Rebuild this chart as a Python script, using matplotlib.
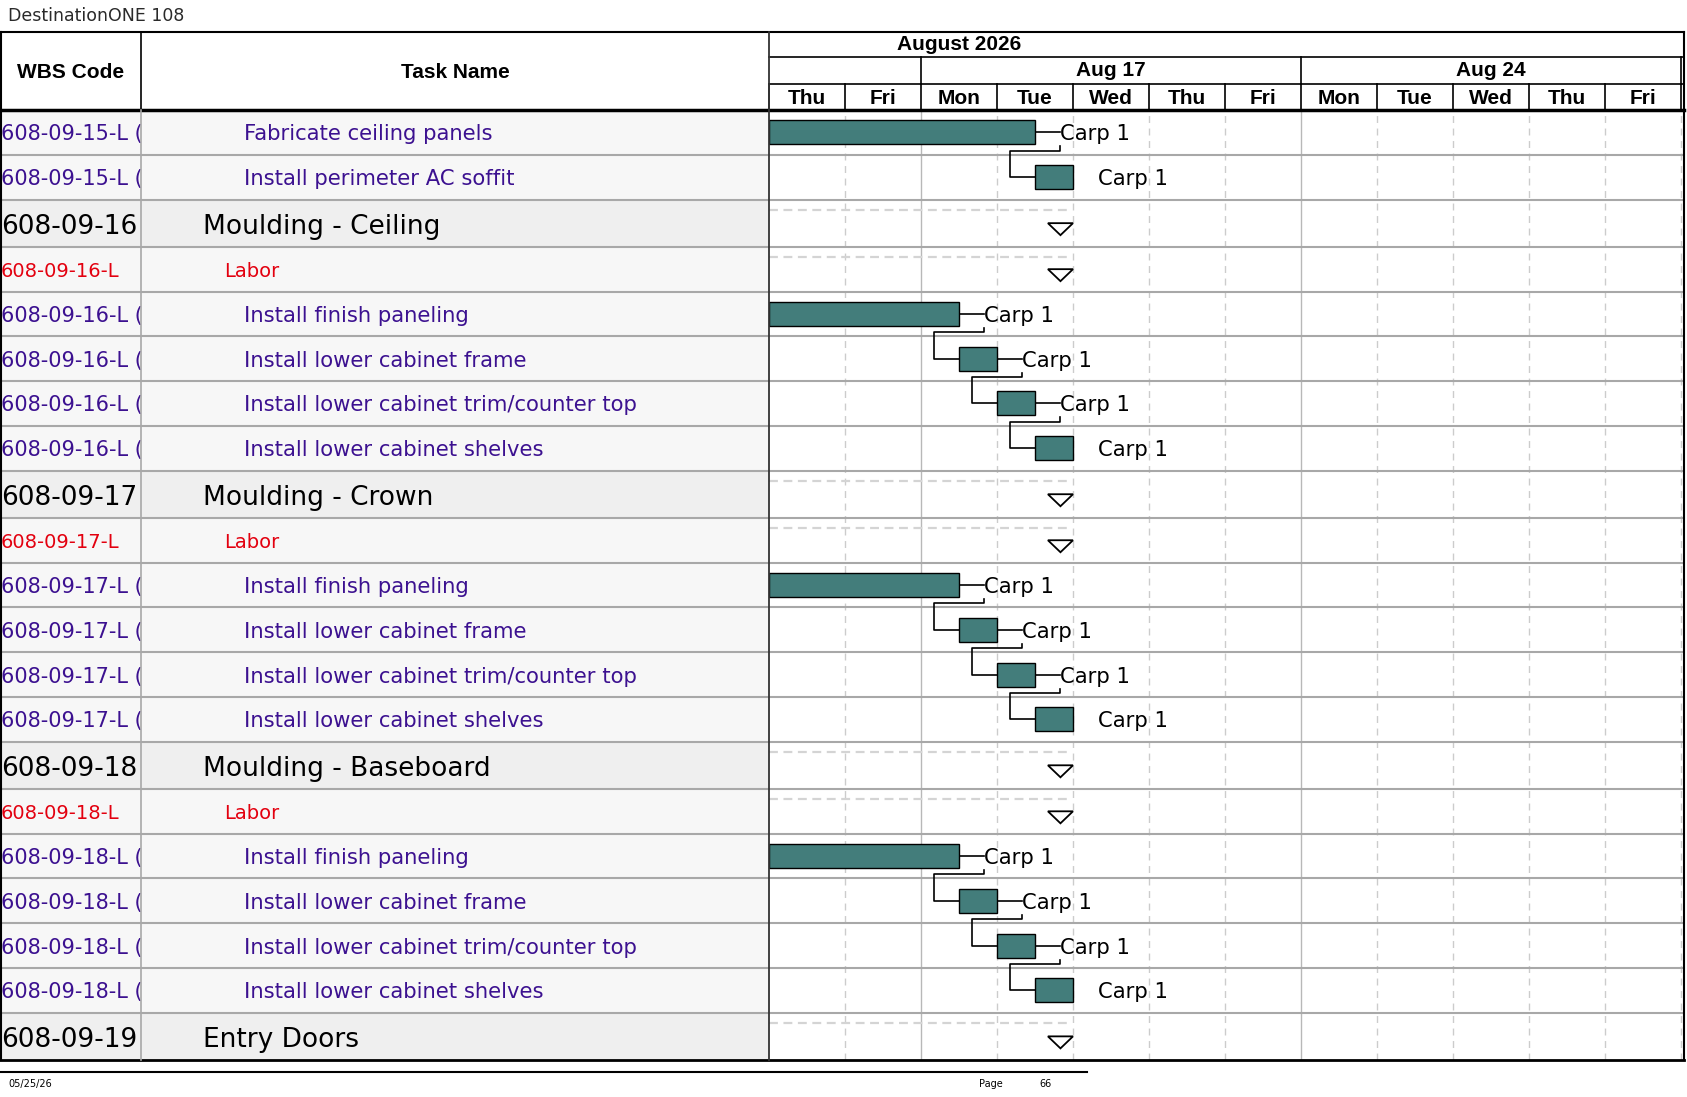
import matplotlib
matplotlib.use("Agg")
import matplotlib.pyplot as plt
from matplotlib.patches import Polygon

# dane

wbs = ["608-09-15-L (", "608-09-15-L (", "608-09-16", "608-09-16-L",
       "608-09-16-L (", "608-09-16-L (", "608-09-16-L (", "608-09-16-L (",
       "608-09-17", "608-09-17-L",
       "608-09-17-L (", "608-09-17-L (", "608-09-17-L (", "608-09-17-L (",
       "608-09-18", "608-09-18-L",
       "608-09-18-L (", "608-09-18-L (", "608-09-18-L (", "608-09-18-L (",
       "608-09-19"]
names = ["Fabricate ceiling panels", "Install perimeter AC soffit",
         "Moulding - Ceiling", "Labor",
         "Install finish paneling", "Install lower cabinet frame",
         "Install lower cabinet trim/counter top", "Install lower cabinet shelves",
         "Moulding - Crown", "Labor",
         "Install finish paneling", "Install lower cabinet frame",
         "Install lower cabinet trim/counter top", "Install lower cabinet shelves",
         "Moulding - Baseboard", "Labor",
         "Install finish paneling", "Install lower cabinet frame",
         "Install lower cabinet trim/counter top", "Install lower cabinet shelves",
         "Entry Doors"]
# typ wiersza: t = zadanie, s = grupa, l = labor
kind = ["t", "t", "s", "l", "t", "t", "t", "t", "s", "l", "t", "t", "t", "t",
        "s", "l", "t", "t", "t", "t", "s"]
# start / koniec w dniach roboczych od czw 13 sierpnia
start = [0, 3.5, None, None, 0, 2.5, 3.0, 3.5, None, None, 0, 2.5, 3.0, 3.5,
         None, None, 0, 2.5, 3.0, 3.5, None]
finish = [3.5, 4.0, 4.0, 4.0, 2.5, 3.0, 3.5, 4.0, 4.0, 4.0, 2.5, 3.0, 3.5, 4.0,
          4.0, 4.0, 2.5, 3.0, 3.5, 4.0, 4.0]
resource = "Carp 1"
links = [(0, 1), (4, 5), (5, 6), (6, 7), (10, 11), (11, 12), (12, 13),
         (16, 17), (17, 18), (18, 19)]

month = "August 2026"
weeks = ["Aug 17", "Aug 24"]
week_start = [2, 7]
days = ["Thu", "Fri", "Mon", "Tue", "Wed", "Thu", "Fri", "Mon", "Tue", "Wed", "Thu", "Fri"]

# wyglad

W, H = 1687, 1097
purple = "#3c1190"
red = "#e3000f"
teal = "#437d7b"
body = "DejaVu Sans"
head = "Liberation Sans"

x_wbs, x_task, x_gantt, x_end = 0, 141, 769, 1684
y_top, y_month, y_week, y_head, y_bot = 32, 57, 84, 110, 1060
row_h = {"t": 44.76, "l": 44.76, "s": 47.26}

tops = []
y = 0
for k in kind:
    tops.append(y)
    y += row_h[k]
total = y

fig = plt.figure(figsize=(W / 100, H / 100), dpi=100)


def px_axes(x0, y0, x1, y1):
    a = fig.add_axes([x0 / W, 1 - y1 / H, (x1 - x0) / W, (y1 - y0) / H])
    a.set_axis_off()
    return a


ax_w = px_axes(x_wbs, y_head, x_task, y_bot)
ax_t = px_axes(x_task, y_head, x_gantt, y_bot)
ax_g = px_axes(x_gantt, y_head, x_end, y_bot)
for a in (ax_w, ax_t, ax_g):
    a.set_ylim(total, 0)
ax_w.set_xlim(0, x_task - x_wbs)
ax_t.set_xlim(0, x_gantt - x_task)
ax_g.set_xlim(0, (x_end - x_gantt) / 76)

# tla wierszy i teksty
for i, k in enumerate(kind):
    t0 = tops[i]
    h = row_h[k]
    yc = t0 + h / 2
    bg = "#efefef" if k == "s" else "#f7f7f7"
    for a in (ax_w, ax_t):
        a.axhspan(t0, t0 + h, color=bg, lw=0, zorder=0)
    if k == "s":
        ax_w.text(1, yc + 3.5, wbs[i], fontsize=19, family=body, color="black",
                  va="center", ha="left", clip_on=True)
        ax_t.text(203 - x_task, yc + 3.5, names[i], fontsize=19, family=body,
                  color="black", va="center", ha="left", clip_on=True)
    elif k == "l":
        ax_w.text(1, yc + 2, wbs[i], fontsize=14, family=body, color=red,
                  va="center", ha="left", clip_on=True)
        ax_t.text(224 - x_task, yc + 2, names[i], fontsize=14, family=body,
                  color=red, va="center", ha="left", clip_on=True)
    else:
        ax_w.text(1, yc + 2, wbs[i], fontsize=15, family=body, color=purple,
                  va="center", ha="left", clip_on=True)
        ax_t.text(244 - x_task, yc + 2, names[i], fontsize=15.2, family=body,
                  color=purple, va="center", ha="left", clip_on=True)

# siatka dni
for d in range(1, len(days) + 1):
    if d in week_start:
        ax_g.axvline(d, color="#b8b8b8", lw=1, zorder=1)
    else:
        ax_g.axvline(d, color="#cccccc", lw=1, ls=(0, (5, 4)), zorder=1)

# linie wierszy
for a in (ax_w, ax_t, ax_g):
    for t0 in tops[1:]:
        a.axhline(t0, color="#a8a8a8", lw=1.5, zorder=2)

# paski zadan
bar_h = 24
for i, k in enumerate(kind):
    yc = tops[i] + row_h[k] / 2
    if k == "t":
        ax_g.barh(yc, finish[i] - start[i], left=start[i], height=bar_h,
                  color=teal, edgecolor="black", lw=1, zorder=4)
        ax_g.text(finish[i] + 0.33, yc + 2, resource, fontsize=15.2, family=body,
                  color="black", va="center", ha="left", zorder=5)
    else:
        ax_g.plot([0, finish[i] - 0.04], [tops[i] + 10, tops[i] + 10],
                  color="#d4d4d4", lw=1.6, ls=(0, (4, 2.5)), zorder=3)
        tri = Polygon([[finish[i] - 0.33, yc], [finish[i], yc],
                       [finish[i] - 0.165, yc + 12]], closed=True,
                      facecolor="white", edgecolor="black", lw=1.3, zorder=4)
        ax_g.add_patch(tri)

# powiazania
for a_i, b_i in links:
    ya = tops[a_i] + row_h[kind[a_i]] / 2
    yb = tops[b_i] + row_h[kind[b_i]] / 2
    ya_bot = tops[a_i] + row_h[kind[a_i]] - 4
    xa = finish[a_i] + 0.33
    xb = start[b_i] - 0.33
    ax_g.plot([finish[a_i], xa], [ya, ya], color="black", lw=1.2, zorder=3)
    ax_g.plot([xa, xa, xb, xb, start[b_i]],
              [ya + bar_h / 2 + 2, ya_bot, ya_bot, yb, yb],
              color="black", lw=1.2, zorder=3)

# naglowek i ramki
ov = fig.add_axes([0, 0, 1, 1])
ov.set_xlim(0, W)
ov.set_ylim(H, 0)
ov.set_axis_off()

ov.text(8, 16, "DestinationONE 108", fontsize=12.5, family=body,
        color="#2a2a2a", va="center", ha="left")
hk = dict(fontsize=15, family=head, weight="bold", va="center", ha="center")
ov.text((x_wbs + x_task) / 2, 72, "WBS Code", **hk)
ov.text((x_task + x_gantt) / 2, 72, "Task Name", **hk)


def gx(d):
    return x_gantt + d * 76


ov.text(gx(2.5), 45, month, **hk)
week_end = week_start[1:] + [len(days)]
for lab, s0, s1 in zip(weeks, week_start, week_end):
    ov.text((gx(s0) + gx(s1)) / 2, 71, lab, **hk)
    ov.plot([gx(s0), gx(s0)], [y_month, y_week], color="black", lw=1.2)
ov.plot([gx(len(days)), gx(len(days))], [y_month, y_week], color="black", lw=1.2)
for d, lab in enumerate(days):
    ov.text(gx(d + 0.5), 98.5, lab, **hk)
    ov.plot([gx(d), gx(d)], [y_week, y_head], color="black", lw=1.2)
ov.plot([gx(len(days)), gx(len(days))], [y_week, y_head], color="black", lw=1.2)

ov.plot([x_gantt, x_end], [y_month, y_month], color="black", lw=1.2)
ov.plot([x_gantt, x_end], [y_week, y_week], color="black", lw=1.2)
ov.plot([x_wbs, x_end], [y_top, y_top], color="black", lw=1.5)
ov.plot([x_wbs, x_end], [y_head, y_head], color="black", lw=2.5)
ov.plot([x_wbs, x_end], [y_bot, y_bot], color="black", lw=2)
ov.plot([x_wbs + 0.7, x_wbs + 0.7], [y_top, y_bot], color="black", lw=1.5)
ov.plot([x_task, x_task], [y_top, y_head], color="black", lw=1.2)
ov.plot([x_task, x_task], [y_head, y_bot], color="#a8a8a8", lw=1.2)
ov.plot([x_gantt, x_gantt], [y_top, y_bot], color="#333333", lw=1.3)
ov.plot([x_end, x_end], [y_top, y_bot], color="black", lw=1.5)

# stopka
ov.plot([0, 1087], [1072, 1072], color="black", lw=1.5)
ov.text(8, 1084, "05/25/26", fontsize=7, family=body, va="center", ha="left")
ov.text(979, 1084, "Page", fontsize=7, family=body, va="center", ha="left")
ov.text(1039, 1084, "66", fontsize=7, family=body, va="center", ha="left")

fig.savefig("out.png", dpi=100)
